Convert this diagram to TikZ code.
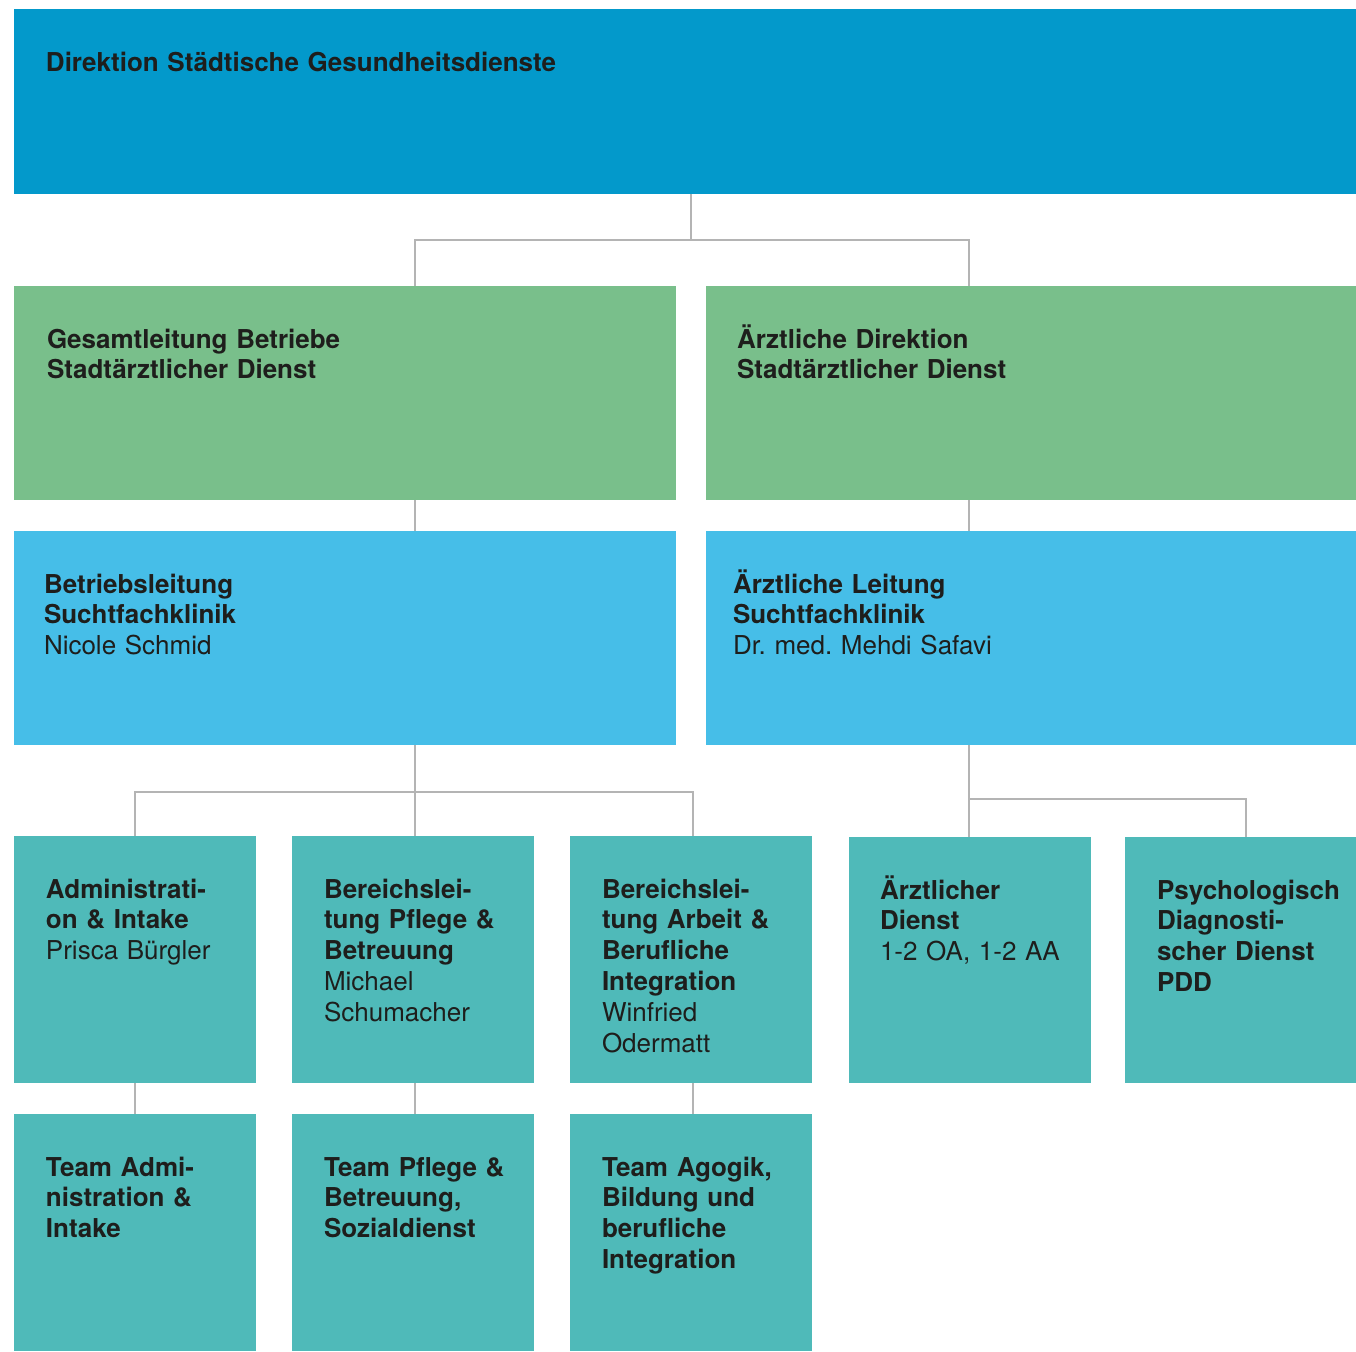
\documentclass[tikz,border=0pt]{standalone}
\usepackage{fontspec}
\setmainfont{TeX Gyre Heros}
\frenchspacing
\definecolor{dirblue}{RGB}{3,153,203}
\definecolor{leadgreen}{RGB}{121,191,139}
\definecolor{clinicblue}{RGB}{70,190,232}
\definecolor{unitteal}{RGB}{79,186,185}
\definecolor{linegray}{RGB}{180,180,180}
\definecolor{ink}{RGB}{30,30,28}

% box given by its corners (x1,y1) (x2,y2), in pixel units
\newcommand\orgbox[6]{%
  \node[box,fill=#6,minimum width={0.5pt*(#4-#2)},minimum height={0.5pt*(#5-#3)}]
    (#1) at ({(#2+#4)/2},{(#3+#5)/2}) {};}
% text block: first baseline 31pt below the box top, left inset #2 px
\newcommand\orgtext[3]{%
  \node[txt,anchor=base west] (#1-t) at ([xshift={0.5pt*#2},yshift=-31pt]#1.north west) {#3};}

\begin{document}
\begin{tikzpicture}[x=0.5pt,y=-0.5pt,
  box/.style={draw=none,inner sep=0pt,outer sep=0pt,rectangle},
  txt/.style={inner sep=0pt,outer sep=0pt,align=left,text width=300pt,text=ink,
    font=\fontsize{13}{15.4}\selectfont},
  conn/.style={draw=linegray,line width=1.4pt}]
\useasboundingbox (0,0) rectangle (1356,1351);

% boxes
\orgbox{top}{14}{9}{1356}{194}{dirblue}
\orgbox{gl}{14}{286}{676}{500}{leadgreen}
\orgbox{ad}{706}{286}{1356}{500}{leadgreen}
\orgbox{bl}{14}{531}{676}{745}{clinicblue}
\orgbox{al}{706}{531}{1356}{745}{clinicblue}
\orgbox{ai}{14}{836}{256}{1083}{unitteal}
\orgbox{pf}{292}{836}{534}{1083}{unitteal}
\orgbox{ba}{570}{836}{812}{1083}{unitteal}
\orgbox{ae}{849}{837}{1091}{1083}{unitteal}
\orgbox{pdd}{1125}{837}{1356}{1083}{unitteal}
\orgbox{tai}{14}{1114}{256}{1351}{unitteal}
\orgbox{tpf}{292}{1114}{534}{1351}{unitteal}
\orgbox{tba}{570}{1114}{812}{1351}{unitteal}

% labels
\orgtext{top}{32}{\textbf{Direktion Städtische Gesundheitsdienste}}
\orgtext{gl}{33}{\textbf{Gesamtleitung Betriebe}\\\textbf{Stadtärztlicher Dienst}}
\orgtext{ad}{31}{\textbf{Ärztliche Direktion}\\\textbf{Stadtärztlicher Dienst}}
\orgtext{bl}{30}{\textbf{Betriebsleitung}\\\textbf{Suchtfachklinik}\\Nicole Schmid}
\orgtext{al}{27}{\textbf{Ärztliche Leitung}\\\textbf{Suchtfachklinik}\\Dr. med. Mehdi Safavi}
\orgtext{ai}{32}{\textbf{Administrati-}\\\textbf{on \& Intake}\\Prisca Bürgler}
\orgtext{pf}{32}{\textbf{Bereichslei-}\\\textbf{tung Pflege \&}\\\textbf{Betreuung}\\Michael\\Schumacher}
\orgtext{ba}{32}{\textbf{Bereichslei-}\\\textbf{tung Arbeit \&}\\\textbf{Berufliche}\\\textbf{Integration}\\Winfried\\Odermatt}
\orgtext{ae}{31}{\textbf{Ärztlicher}\\\textbf{Dienst}\\1-2 OA, 1-2 AA}
\orgtext{pdd}{32}{\textbf{Psychologisch}\\\textbf{Diagnosti-}\\\textbf{scher Dienst}\\\textbf{PDD}}
\orgtext{tai}{32}{\textbf{Team Admi-}\\\textbf{nistration \&}\\\textbf{Intake}}
\orgtext{tpf}{32}{\textbf{Team Pflege \&}\\\textbf{Betreuung,}\\\textbf{Sozialdienst}}
\orgtext{tba}{32}{\textbf{Team Agogik,}\\\textbf{Bildung und}\\\textbf{berufliche}\\\textbf{Integration}}

% bus junctions
\coordinate (jtop) at (691,240);
\coordinate (jleft) at (415,792);
\coordinate (jright) at (969,799);
\coordinate (pddin) at (1246,837);

% connectors
\draw[conn] (top.south -| jtop) -- (jtop);
\draw[conn] (gl.north -| jleft) |- (jtop) -| (ad.north -| jright);
\draw[conn] (gl.south -| jleft) -- (bl.north -| jleft);
\draw[conn] (ad.south -| jright) -- (al.north -| jright);
\draw[conn] (bl.south -| jleft) -- (pf.north -| jleft);
\draw[conn] (ai.north) |- (jleft) -| (ba.north -| 693,0);
\draw[conn] (al.south -| jright) -- (ae.north -| jright);
\draw[conn] (jright) -| (pddin);
\draw[conn] (ai.south) -- (tai.north);
\draw[conn] (pf.south -| jleft) -- (tpf.north -| jleft);
\draw[conn] (ba.south -| 693,0) -- (tba.north -| 693,0);
\end{tikzpicture}
\end{document}
